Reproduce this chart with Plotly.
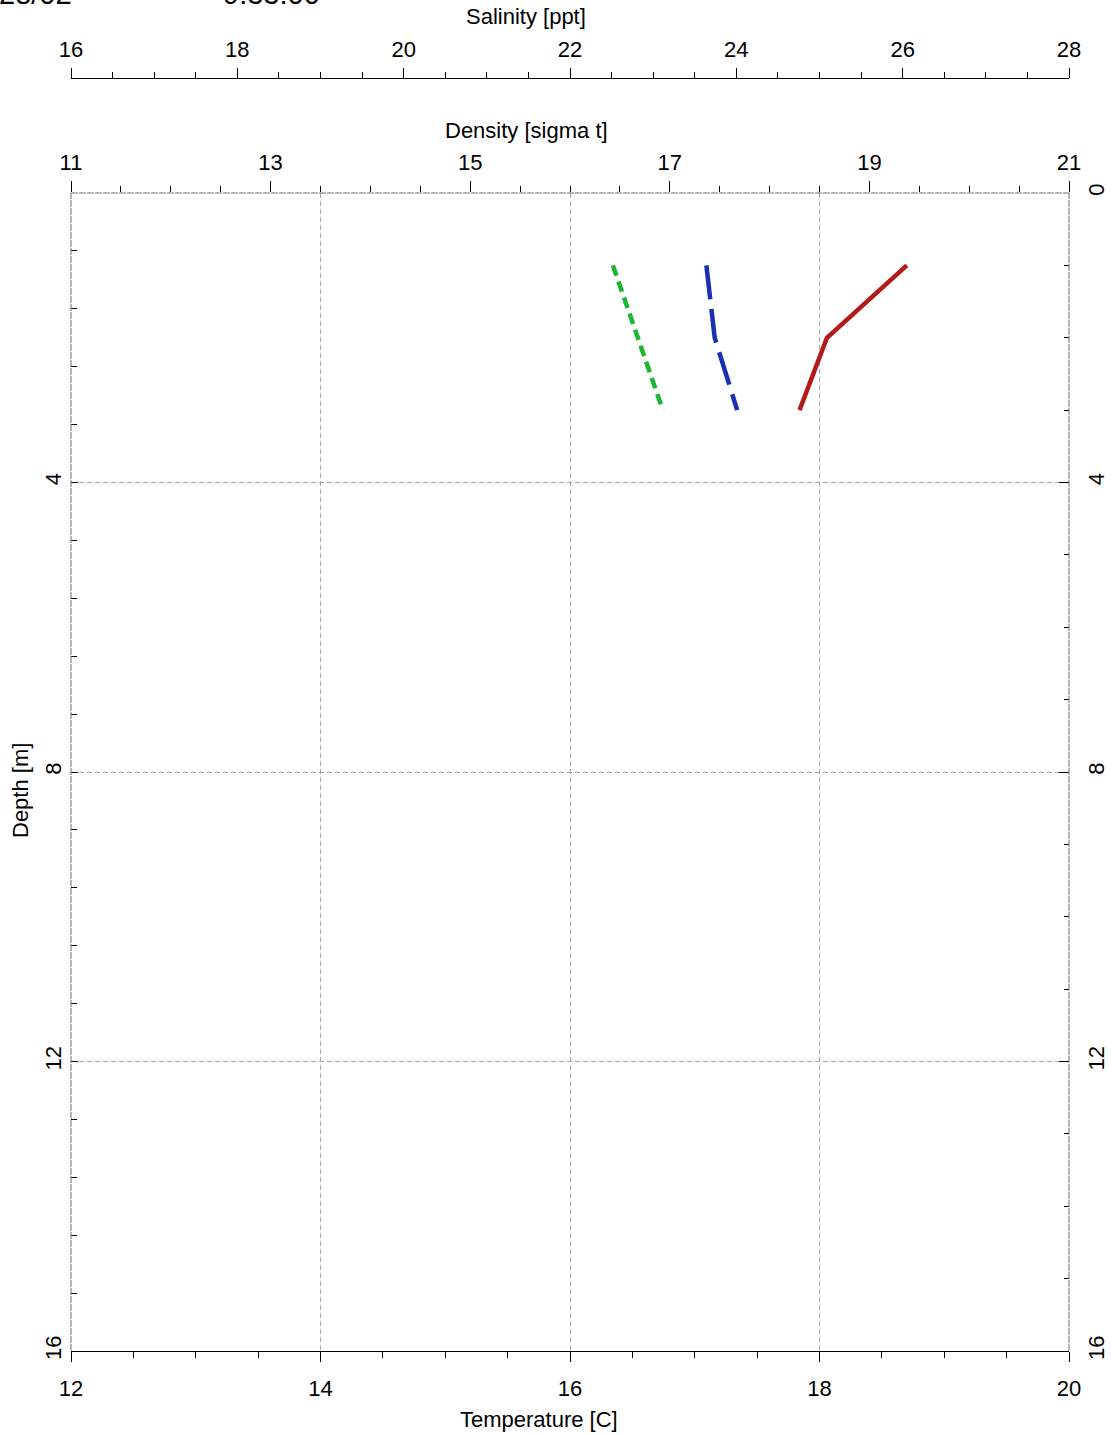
import plotly.graph_objects as go

# Data
depth = [1, 2, 3]
temperature = [18.70, 18.06, 17.84]
salinity = [23.64, 23.74, 24.01]
density = [16.43, 16.68, 16.93]

temp_ticks = [12, 14, 16, 18, 20]
dens_ticks = [11, 13, 15, 17, 19, 21]
sal_ticks = [16, 18, 20, 22, 24, 26, 28]
depth_ticks_left = [4, 8, 12, 16]
depth_ticks_right = [0, 4, 8, 12, 16]

FONT = "Liberation Sans, Arial, sans-serif"
W, H = 1112, 1435
L, R, T, B = 71, 43, 78, 84
PLOT_TOP = 193
plot_h = H - T - B
dom_top = (H - B - PLOT_TOP) / plot_h


def px_x(p):
    return (p - L) / (W - L - R)


def px_y(p):
    return (H - B - p) / plot_h


fig = go.Figure()
fig.add_trace(go.Scatter(x=temperature, y=depth, mode="lines", xaxis="x", yaxis="y",
                         line=dict(color="#b31b1b", width=4.5), showlegend=False))
fig.add_trace(go.Scatter(x=density, y=depth, mode="lines", xaxis="x2", yaxis="y",
                         line=dict(color="#1fb532", width=4.5, dash="11px,6px"), showlegend=False))
fig.add_trace(go.Scatter(x=salinity, y=depth, mode="lines", xaxis="x3", yaxis="y2",
                         line=dict(color="#1a2fb3", width=4.5, dash="34px,10px"), showlegend=False))

tickfont = dict(family=FONT, size=22, color="black")
grid = dict(showgrid=True, gridcolor="#a8a8a8", gridwidth=1, griddash="5px,3px")

fig.update_layout(
    width=W, height=H,
    margin=dict(l=L, r=R, t=T, b=B, pad=0, autoexpand=False),
    paper_bgcolor="white", plot_bgcolor="white",
    font=dict(family=FONT, size=22, color="black"),
    xaxis=dict(range=[12, 20], side="bottom", anchor="y", tickvals=temp_ticks, automargin=False,
               ticks="outside", ticklen=10, tickcolor="black", showline=True,
               linecolor="black", linewidth=1, zeroline=False, tickfont=tickfont,
               ticklabelstandoff=8,
               minor=dict(dtick=0.5, tick0=12, ticks="outside", ticklen=6, tickcolor="black", showgrid=False),
               **grid),
    xaxis2=dict(range=[11, 21], side="top", anchor="y", overlaying="x", tickvals=dens_ticks, automargin=False,
                ticks="outside", ticklen=11, tickcolor="black", showline=False,
                zeroline=False, showgrid=False, tickfont=tickfont, ticklabelstandoff=2,
                minor=dict(dtick=0.5, tick0=11, ticks="outside", ticklen=6, tickcolor="black", showgrid=False)),
    xaxis3=dict(range=[16, 28], side="top", anchor="free", position=1.0, overlaying="x", automargin=False,
                tickvals=sal_ticks, ticks="outside", ticklen=10, tickcolor="black",
                showline=True, linecolor="black", linewidth=1, zeroline=False,
                showgrid=False, tickfont=tickfont, ticklabelstandoff=2,
                minor=dict(dtick=0.5, tick0=16, ticks="outside", ticklen=6, tickcolor="black", showgrid=False)),
    yaxis=dict(range=[16, 0], domain=[0, dom_top], side="left", anchor="x", automargin=False,
               tickvals=depth_ticks_left, ticks="inside", ticklen=7, tickcolor="black",
               showline=False, zeroline=False, tickangle=-90, tickfont=tickfont,
               ticklabelstandoff=5,
               minor=dict(dtick=0.8, tick0=0, ticks="inside", ticklen=6, tickcolor="black", showgrid=False),
               **grid),
    yaxis2=dict(range=[16, 0], domain=[0, dom_top], side="right", anchor="x", overlaying="y", automargin=False,
                tickvals=depth_ticks_right, ticks="inside", ticklen=10, tickcolor="black",
                showline=False, zeroline=False, showgrid=False, tickangle=-90,
                tickfont=tickfont, ticklabelstandoff=12,
                minor=dict(dtick=1, tick0=0, ticks="inside", ticklen=5, tickcolor="black", showgrid=False)),
)

# dashed frame (left, right, top)
frame = dict(color="#6e6e6e", width=1, dash="7px,1px")
fig.add_shape(type="line", xref="x domain", yref="y domain", x0=0, x1=0, y0=0, y1=1, line=frame)
fig.add_shape(type="line", xref="x domain", yref="y domain", x0=1, x1=1, y0=0, y1=1, line=frame)
fig.add_shape(type="line", xref="x domain", yref="y domain", x0=0, x1=1, y0=1, y1=1, line=frame)

ann = dict(showarrow=False, xref="paper", yref="paper", font=dict(family=FONT, size=22, color="black"))
fig.add_annotation(text="Salinity [ppt]", x=px_x(526), y=px_y(17), xanchor="center", yanchor="middle", **ann)
fig.add_annotation(text="Density [sigma t]", x=px_x(526), y=px_y(130), xanchor="center", yanchor="middle", **ann)
fig.add_annotation(text="Temperature [C]", x=px_x(539), y=px_y(1419), xanchor="center", yanchor="middle", **ann)
fig.add_annotation(text="Depth [m]", x=px_x(20), y=px_y(791), xanchor="center", yanchor="middle",
                   textangle=-90, **ann)

top = dict(showarrow=False, xref="paper", yref="paper", font=dict(family=FONT, size=29, color="black"))
fig.add_annotation(text="28/02", x=px_x(-3), y=px_y(12), xanchor="left", yanchor="bottom", **top)
fig.add_annotation(text="9:33:00", x=px_x(221), y=px_y(12), xanchor="left", yanchor="bottom", **top)

fig.write_html("out.html", config={"displayModeBar": False},
               post_script="document.body.style.margin='0';document.body.style.padding='0';")
